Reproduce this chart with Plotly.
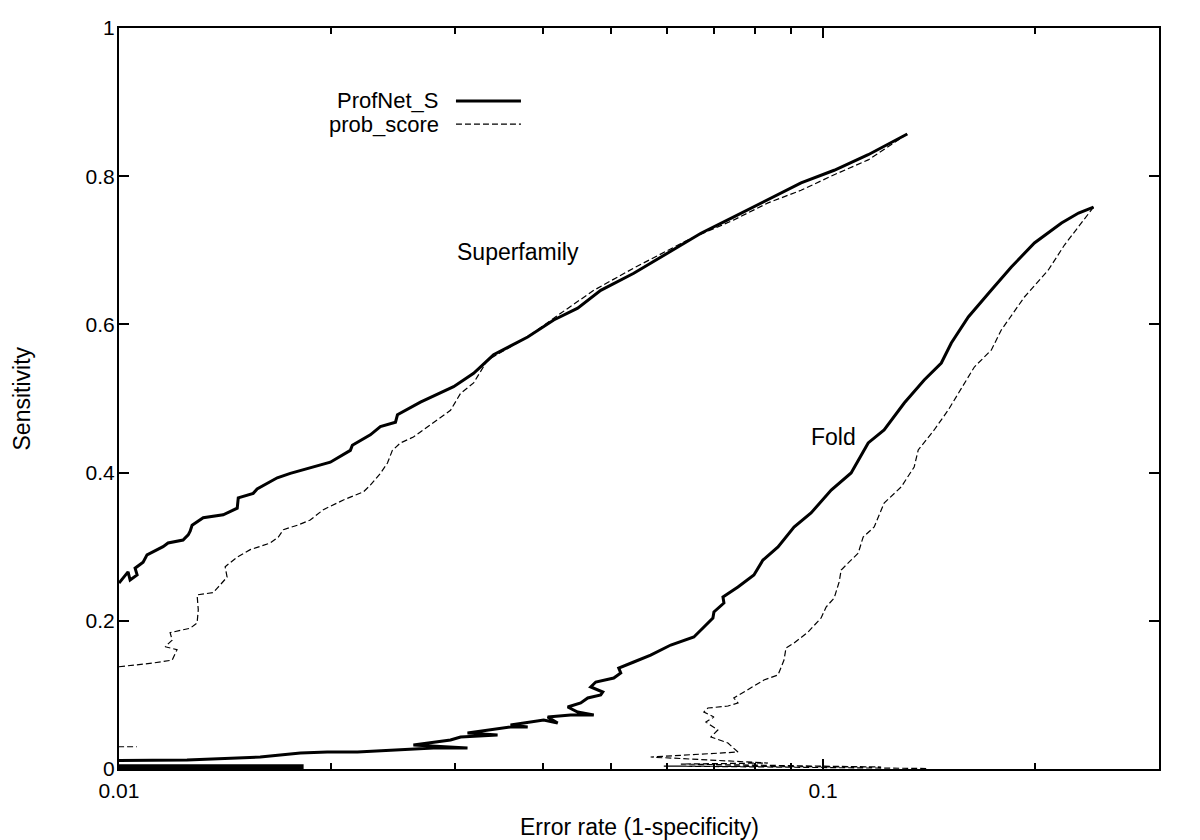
import numpy as np
import plotly.graph_objects as go

# ---------------- data ----------------
# Superfamily, ProfNet_S
sf_profnet_x = [0.0100, 0.0103, 0.01037, 0.01061, 0.01054, 0.01082, 0.01096, 0.01155, 0.01174, 0.01233,
                0.01254, 0.01262, 0.0127, 0.01317, 0.01406, 0.01472, 0.01477, 0.01551, 0.01571, 0.01678,
                0.01751, 0.01869, 0.01996, 0.02131, 0.02145, 0.02275, 0.02351, 0.0247, 0.02486, 0.0268,
                0.02987, 0.03189, 0.03404, 0.03806, 0.04144, 0.04482, 0.04833, 0.05384, 0.06019, 0.06707,
                0.07469, 0.08353, 0.09305, 0.1037, 0.1159, 0.1317]
sf_profnet_y = [0.251, 0.266, 0.255, 0.262, 0.271, 0.279, 0.289, 0.300, 0.305, 0.309,
                0.316, 0.321, 0.329, 0.339, 0.343, 0.352, 0.366, 0.372, 0.378, 0.393,
                0.399, 0.406, 0.414, 0.430, 0.437, 0.451, 0.462, 0.468, 0.478, 0.495,
                0.516, 0.534, 0.559, 0.583, 0.606, 0.622, 0.646, 0.669, 0.696, 0.723,
                0.745, 0.768, 0.791, 0.808, 0.829, 0.857]

# Superfamily, prob_score
sf_prob_x = [0.0100, 0.01118, 0.0119, 0.01209, 0.01163, 0.0119, 0.01182, 0.01262, 0.01291, 0.01296,
             0.01291, 0.01361, 0.01379, 0.01424, 0.01415, 0.01472, 0.01536, 0.0164, 0.01684, 0.01712,
             0.01792, 0.01869, 0.01951, 0.02083, 0.02224, 0.02275, 0.02351, 0.02406, 0.02445, 0.0251,
             0.02619, 0.02797, 0.02957, 0.03056, 0.03189, 0.03338, 0.03806, 0.0424, 0.04724, 0.05384,
             0.06427, 0.07469, 0.08353, 0.09305, 0.1037, 0.1159, 0.1317]
sf_prob_y = [0.138, 0.143, 0.147, 0.161, 0.165, 0.174, 0.184, 0.190, 0.197, 0.215,
             0.235, 0.238, 0.244, 0.259, 0.273, 0.286, 0.296, 0.305, 0.313, 0.323,
             0.329, 0.336, 0.350, 0.363, 0.374, 0.383, 0.399, 0.413, 0.430, 0.440,
             0.448, 0.467, 0.484, 0.507, 0.521, 0.552, 0.583, 0.615, 0.646, 0.676,
             0.714, 0.741, 0.764, 0.781, 0.802, 0.822, 0.857]

# Fold, ProfNet_S
fold_profnet_x = [0.007, 0.0182, 0.0182, 0.007, 0.007, 0.01249, 0.01587, 0.0181, 0.01976, 0.02181,
                  0.02797, 0.03126, 0.02619, 0.02957, 0.03056, 0.03449, 0.03126, 0.03598, 0.03806, 0.03598,
                  0.0401, 0.04198, 0.04063, 0.0438, 0.04724, 0.04482, 0.04338, 0.04527, 0.04632, 0.04833,
                  0.04865, 0.04677, 0.04755, 0.05043, 0.0516, 0.05126, 0.05384, 0.0569, 0.06077, 0.06554,
                  0.06707, 0.06975, 0.06998, 0.07231, 0.07208, 0.0757, 0.07976, 0.08215, 0.0863, 0.09094,
                  0.09614, 0.1027, 0.1096, 0.1159, 0.1221, 0.1304, 0.1392, 0.1472, 0.1521, 0.1608,
                  0.1734, 0.1851, 0.1996, 0.2181, 0.2306, 0.2422]
fold_profnet_y = [0.0015, 0.0015, 0.0045, 0.0045, 0.0108, 0.0121, 0.0162, 0.0216, 0.0229, 0.0229,
                  0.0283, 0.0283, 0.0324, 0.0391, 0.0432, 0.0459, 0.0486, 0.0567, 0.0567, 0.0594,
                  0.0661, 0.0621, 0.0702, 0.0729, 0.0729, 0.0769, 0.0837, 0.0891, 0.0958, 0.0999,
                  0.1039, 0.1107, 0.1174, 0.1228, 0.1296, 0.1363, 0.1444, 0.1538, 0.1673, 0.1781,
                  0.1876, 0.2038, 0.2119, 0.224, 0.2321, 0.2456, 0.2618, 0.282, 0.2996, 0.3266,
                  0.3455, 0.3765, 0.3995, 0.44, 0.4575, 0.4939, 0.525, 0.5479, 0.5749, 0.61,
                  0.6464, 0.6775, 0.7099, 0.7368, 0.7503, 0.7584]

# Fold, prob_score (first two points: short piece at the left edge)
fold_prob_x = [0.0094, 0.0106, None,
               0.1401, 0.0594, 0.1209, 0.06281, 0.08353, 0.0569, 0.0757, 0.07326, 0.0693, 0.07088,
               0.06817, 0.06998, 0.06772, 0.06861, 0.07326, 0.0757, 0.07469, 0.0782, 0.08242, 0.0863,
               0.08801, 0.08859, 0.09094, 0.09522, 0.09936, 0.101, 0.1037, 0.1054, 0.1061, 0.1122,
               0.114, 0.1182, 0.1221, 0.1291, 0.1347, 0.1365, 0.1438, 0.1506, 0.1587, 0.164,
               0.1734, 0.1791, 0.1932, 0.2089, 0.2202, 0.2422]
fold_prob_y = [0.030, 0.030, None,
               0.0007, 0.004, 0.0027, 0.0067, 0.0081, 0.0162, 0.0229, 0.0351, 0.0432, 0.0526,
               0.0634, 0.0702, 0.0769, 0.0823, 0.085, 0.0891, 0.0958, 0.1066, 0.1201, 0.1269,
               0.1471, 0.1633, 0.17, 0.1849, 0.2038, 0.2186, 0.2308, 0.2524, 0.2686, 0.2915,
               0.3131, 0.3266, 0.359, 0.3806, 0.4076, 0.4305, 0.4575, 0.4845, 0.5209, 0.5425,
               0.5655, 0.5924, 0.637, 0.6734, 0.7071, 0.7584]

x_major_ticks = [0.01, 0.1]
x_major_text = ["0.01", "0.1"]
x_minor_ticks = [0.02, 0.03, 0.04, 0.05, 0.06, 0.07, 0.08, 0.09, 0.2, 0.3]
y_ticks = [0, 0.2, 0.4, 0.6, 0.8, 1.0]
y_text = ["0", "0.2", "0.4", "0.6", "0.8", "1"]

series_names = ["ProfNet_S", "prob_score"]
curve_labels = [("Superfamily", 0.0300, 0.698), ("Fold", 0.0955, 0.448)]

# ---------------- figure ----------------
FONT = "Liberation Sans, Arial, Helvetica, sans-serif"
TXT = 23
solid = dict(color="black", width=3)
dashed = dict(color="black", width=1.2, dash="6px,3px")

fig = go.Figure()
fig.add_trace(go.Scatter(x=sf_profnet_x, y=sf_profnet_y, mode="lines", line=solid, showlegend=False))
fig.add_trace(go.Scatter(x=sf_prob_x, y=sf_prob_y, mode="lines", line=dashed, showlegend=False))
fig.add_trace(go.Scatter(x=fold_profnet_x, y=fold_profnet_y, mode="lines", line=solid, showlegend=False))
fig.add_trace(go.Scatter(x=fold_prob_x, y=fold_prob_y, mode="lines", line=dashed,
                         connectgaps=False, showlegend=False))

axis_common = dict(showline=True, linecolor="black", linewidth=2, mirror="allticks",
                   ticks="inside", ticklen=10, tickwidth=1.5, tickcolor="black",
                   showgrid=False, zeroline=False,
                   tickfont=dict(family=FONT, size=21, color="black"))

fig.update_xaxes(type="log", range=[-2, np.log10(0.3)], tickmode="array",
                 tickvals=x_major_ticks, ticktext=x_major_text, ticklabelstandoff=2,
                 minor=dict(tickmode="array", tickvals=x_minor_ticks, ticks="inside", ticklen=6,
                            tickwidth=1.5, tickcolor="black", showgrid=False),
                 **axis_common)
fig.update_yaxes(range=[0, 1], tickmode="array", tickvals=y_ticks, ticktext=y_text,
                 ticklabelstandoff=-2, **axis_common)

annotations = []
# axis titles
annotations.append(dict(text="Error rate (1-specificity)", x=0.5, y=-0.0783, xref="paper", yref="paper",
                        showarrow=False, xanchor="center", yanchor="middle",
                        font=dict(family=FONT, size=TXT, color="black")))
annotations.append(dict(text="Sensitivity", x=-0.0933, y=0.5, xref="paper", yref="paper",
                        showarrow=False, textangle=-90, xanchor="center", yanchor="middle",
                        font=dict(family=FONT, size=TXT, color="black")))
# curve labels
for txt, lx, ly in curve_labels:
    annotations.append(dict(text=txt, x=np.log10(lx), y=ly, xref="x", yref="y", showarrow=False,
                            xanchor="left", yanchor="middle",
                            font=dict(family=FONT, size=TXT, color="black")))
# legend
leg_y = [0.9015, 0.8704]
for name, yy in zip(series_names, leg_y):
    annotations.append(dict(text=name, x=0.3096, y=yy, xref="paper", yref="paper", showarrow=False,
                            xanchor="right", yanchor="middle",
                            font=dict(family=FONT, size=22, color="black")))

shapes = [
    dict(type="line", xref="paper", yref="paper", x0=0.324, x1=0.3865, y0=leg_y[0], y1=leg_y[0],
         line=solid),
    dict(type="line", xref="paper", yref="paper", x0=0.324, x1=0.3865, y0=leg_y[1], y1=leg_y[1],
         line=dashed),
]

fig.update_layout(width=1200, height=840, margin=dict(l=119, r=41, t=28, b=71, autoexpand=False),
                  paper_bgcolor="white", plot_bgcolor="white", showlegend=False,
                  annotations=annotations, shapes=shapes)

fig.write_html("out.html", config={"displayModeBar": False},
               post_script="document.body.style.margin='0';document.body.style.overflow='hidden';")
